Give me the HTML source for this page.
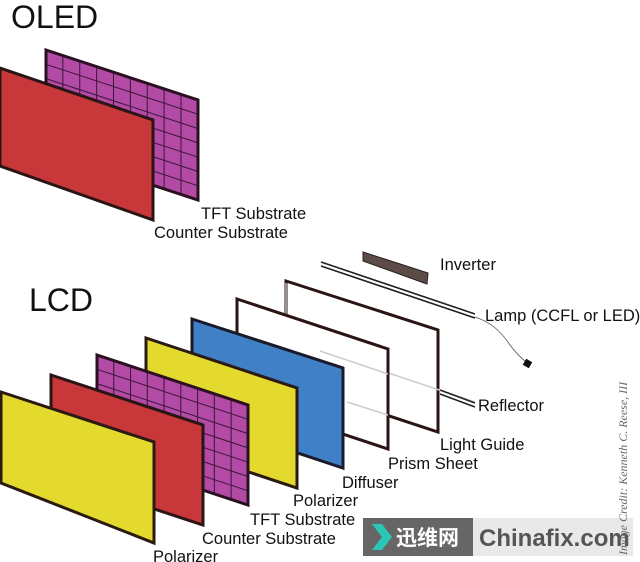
<!DOCTYPE html>
<html><head><meta charset="utf-8"><style>
html,body{margin:0;padding:0;background:#fff;width:640px;height:562px;overflow:hidden}
svg{display:block}
text{font-family:"Liberation Sans","DejaVu Sans",sans-serif;fill:#111}
</style></head><body>
<svg width="640" height="562" viewBox="0 0 640 562" xmlns="http://www.w3.org/2000/svg">
<defs>
<g id="grid">
<rect x="0" y="0" width="1" height="1" fill="#b24aa6"/>
<g stroke="#3a1636" stroke-width="1">
<line x1="0.111" y1="0" x2="0.111" y2="1" vector-effect="non-scaling-stroke"/>
<line x1="0.222" y1="0" x2="0.222" y2="1" vector-effect="non-scaling-stroke"/>
<line x1="0.333" y1="0" x2="0.333" y2="1" vector-effect="non-scaling-stroke"/>
<line x1="0.444" y1="0" x2="0.444" y2="1" vector-effect="non-scaling-stroke"/>
<line x1="0.555" y1="0" x2="0.555" y2="1" vector-effect="non-scaling-stroke"/>
<line x1="0.666" y1="0" x2="0.666" y2="1" vector-effect="non-scaling-stroke"/>
<line x1="0.777" y1="0" x2="0.777" y2="1" vector-effect="non-scaling-stroke"/>
<line x1="0.888" y1="0" x2="0.888" y2="1" vector-effect="non-scaling-stroke"/>
<line x1="0" y1="0.143" x2="1" y2="0.143" vector-effect="non-scaling-stroke"/>
<line x1="0" y1="0.286" x2="1" y2="0.286" vector-effect="non-scaling-stroke"/>
<line x1="0" y1="0.429" x2="1" y2="0.429" vector-effect="non-scaling-stroke"/>
<line x1="0" y1="0.572" x2="1" y2="0.572" vector-effect="non-scaling-stroke"/>
<line x1="0" y1="0.715" x2="1" y2="0.715" vector-effect="non-scaling-stroke"/>
<line x1="0" y1="0.858" x2="1" y2="0.858" vector-effect="non-scaling-stroke"/>
</g>
<rect x="0" y="0" width="1" height="1" fill="none" stroke="#2a1020" stroke-width="3" vector-effect="non-scaling-stroke"/>
</g>
</defs>

<!-- OLED -->
<text x="11" y="28" font-size="32">OLED</text>
<use href="#grid" transform="matrix(152,50,0,100,46,50)"/>
<polygon points="0,68 153,120 153,220 0,166" fill="#c8373a" stroke="#2a1414" stroke-width="3"/>
<text x="201" y="219" font-size="16.5">TFT Substrate</text>
<text x="154" y="238" font-size="16.5">Counter Substrate</text>

<!-- LCD -->
<text x="29" y="311" font-size="32">LCD</text>

<polygon points="363,252 428,273 427,284 363,261" fill="#5c4b46" stroke="#2a2020" stroke-width="1"/>
<line x1="321" y1="262" x2="475" y2="314" stroke="#222" stroke-width="1.6"/>
<line x1="321" y1="266" x2="475" y2="318" stroke="#222" stroke-width="1.6"/>
<path d="M475,317 C490,322 500,330 510,345 C518,356 522,358 528,364" fill="none" stroke="#555" stroke-width="0.8"/>
<rect x="524" y="360" width="7" height="7" fill="#111" transform="rotate(30 527.5 363.5)"/>

<polygon points="286,281 438,330 438,432 286,382" fill="#fff" stroke="#2a1414" stroke-width="3"/>
<line x1="286" y1="283" x2="286" y2="330" stroke="#bbb" stroke-width="1.5"/>
<line x1="320" y1="350" x2="475" y2="402" stroke="#ccc" stroke-width="1.5"/>
<line x1="440" y1="390" x2="475" y2="403" stroke="#222" stroke-width="1.6"/>
<line x1="440" y1="394" x2="475" y2="407" stroke="#222" stroke-width="1.6"/>
<polygon points="237,299 388,349 388,449 237,399" fill="#fff" stroke="#2a1414" stroke-width="3"/>
<line x1="320" y1="351" x2="388" y2="374" stroke="#ccc" stroke-width="1.5"/>
<line x1="347" y1="402" x2="388" y2="415" stroke="#ccc" stroke-width="1.5"/>
<polygon points="192,319 343,368 343,468 192,418" fill="#4080c6" stroke="#1a1a2a" stroke-width="3"/>
<polygon points="146,338 297,388 297,488 146,438" fill="#e4da2e" stroke="#2a1a10" stroke-width="3"/>
<use href="#grid" transform="matrix(151,50,0,100,97,355)"/>
<polygon points="51,375 203,425 203,525 51,475" fill="#c8373a" stroke="#2a1414" stroke-width="3"/>
<polygon points="1,392 154,442 154,543 1,483" fill="#e4da2e" stroke="#2a1a10" stroke-width="3"/>

<g font-size="16.5">
<text x="440" y="270">Inverter</text>
<text x="485" y="321">Lamp (CCFL or LED)</text>
<text x="478" y="411">Reflector</text>
<text x="440" y="450">Light Guide</text>
<text x="388" y="469">Prism Sheet</text>
<text x="342" y="488">Diffuser</text>
<text x="293" y="506">Polarizer</text>
<text x="250" y="525">TFT Substrate</text>
<text x="202" y="544">Counter Substrate</text>
<text x="153" y="562">Polarizer</text>
</g>

<rect x="363" y="518" width="110" height="38" fill="#666"/>
<polygon points="372,524 382,524 392,537 382,550 372,550 382,537" fill="#2cc6b8"/>
<text x="396" y="545" font-size="21" font-weight="bold" style="fill:#fff;font-family:'Liberation Sans','Noto Sans CJK SC',sans-serif">迅维网</text>
<rect x="473" y="518" width="160" height="38" fill="#e9e9e9"/>
<text x="479" y="546" font-size="24" font-weight="bold" style="fill:#555">Chinafix.com</text>

<text transform="translate(627,555) rotate(-90)" font-size="12" font-style="italic" style="fill:#666;font-family:'Liberation Serif',serif">Image Credit: Kenneth C. Reese, III</text>
</svg>
</body></html>
